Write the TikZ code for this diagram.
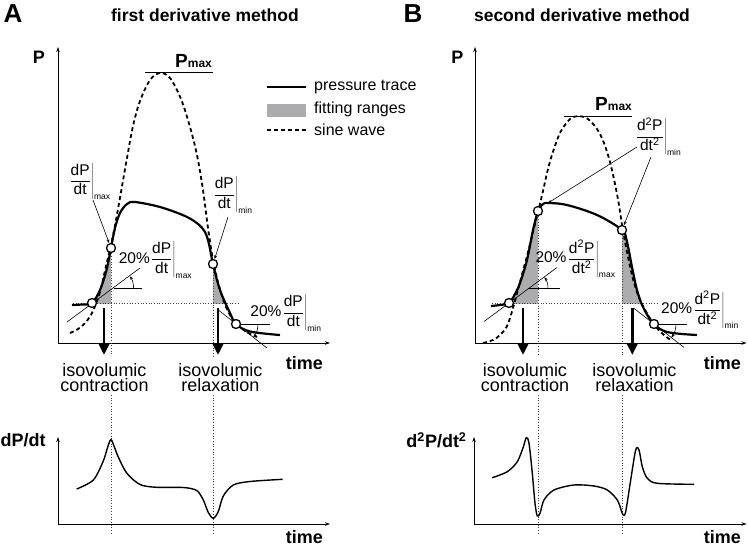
\documentclass[tikz,border=0pt]{standalone}
\usepackage{fontspec}
\setmainfont{Liberation Sans}
\usetikzlibrary{arrows.meta}
\definecolor{fillg}{RGB}{172,172,175}
\newcommand\dfr[3]{$\displaystyle\left.\frac{\mbox{#1}}{\mbox{#2}}\right|_{\mbox{\fontsize{8.5}{8.5}\selectfont #3}}$}
\begin{document}
\begin{tikzpicture}[x=1pt,y=-1pt,
  ax/.style={line width=0.8pt,-{Stealth[length=5pt,width=3.5pt]}},
  trace/.style={line width=2.2pt,line join=round},
  sine/.style={line width=1.8pt,dash pattern=on 4pt off 3pt},
  dotl/.style={line width=0.7pt,dotted,black!75},
  thinl/.style={line width=0.6pt},
  lead/.style={line width=0.6pt,-{Stealth[length=4pt,width=3pt]}},
  bigarrow/.style={line width=2.8pt,-{Triangle[length=11pt,width=10pt]}},
  ptc/.style={circle,draw,fill=white,line width=1.3pt,minimum size=9pt,inner sep=0pt},
  lbl/.style={font=\fontsize{18}{15}\selectfont,align=center,inner sep=0pt},
  bl/.style={font=\bfseries\fontsize{18}{18}\selectfont,inner sep=0pt},
  fl/.style={font=\fontsize{15.5}{15.5}\selectfont,inner sep=0pt},
  lg/.style={font=\fontsize{16}{16}\selectfont,anchor=west,inner sep=0pt}]
\useasboundingbox (0,0) rectangle (748,547);

% ---------- headings ----------
\node[font=\bfseries\fontsize{26}{26}\selectfont] (labA) at (13,14) {A};
\node[font=\bfseries\fontsize{26}{26}\selectfont] (labB) at (413,14) {B};
\node[font=\bfseries\fontsize{17.5}{17.5}\selectfont] (titA) at (205,15) {first derivative method};
\node[font=\bfseries\fontsize{17.5}{17.5}\selectfont] (titB) at (582,15) {second derivative method};

% ---------- legend ----------
\coordinate (lg1a) at (267,87); \coordinate (lg1b) at (306,87);
\draw[trace] (lg1a) -- (lg1b);
\fill[fillg] (267,104) rectangle (306,117);
\coordinate (lg3a) at (267,130); \coordinate (lg3b) at (306,130);
\draw[sine] (lg3a) -- (lg3b);
\node[lg] (lgt1) at (314,87) {pressure trace};
\node[lg] (lgt2) at (314,109) {fitting ranges};
\node[lg] (lgt3) at (314,130) {sine wave};

% ================= PANEL A =================
% fitting ranges
\begin{scope}
\clip (92,150) rectangle (111,303);
\fill[fillg] plot[smooth,tension=0.55] coordinates {(72,305) (82,304.5) (92,303) (100,290) (106.5,270) (111,248) (115,228) (120,213) (127,204) (135,202) (160,207) (185,216) (198,224) (205,232) (209,244) (213,264) (220,290) (230,313) (236,324) (250,331.5) (280,335)} -- (280,400) -- (72,400) -- cycle;
\end{scope}
\begin{scope}
\clip (213,150) rectangle (250,303);
\fill[fillg] plot[smooth,tension=0.55] coordinates {(72,305) (82,304.5) (92,303) (100,290) (106.5,270) (111,248) (115,228) (120,213) (127,204) (135,202) (160,207) (185,216) (198,224) (205,232) (209,244) (213,264) (220,290) (230,313) (236,324) (250,331.5) (280,335)} -- (280,400) -- (72,400) -- cycle;
\end{scope}

% axes
\coordinate (oA) at (58,343);
\coordinate (yA) at (58,47);
\coordinate (xA) at (330,343);
\draw[ax] (oA) -- (yA);
\draw[ax] (oA) -- (xA);
\node[bl] (PA) at (39,57) {P};
\node[bl] (timeA) at (304.5,363) {time};

% dotted guides
\coordinate (hA1) at (73,303); \coordinate (hA2) at (238,303);
\draw[dotl] (hA1) -- (hA2);
\coordinate (vA1) at (111,248); \coordinate (vA1b) at (111,356);
\coordinate (vA1c) at (111,395); \coordinate (vA1d) at (111,533);
\coordinate (vA2) at (213,264); \coordinate (vA2b) at (213,356);
\coordinate (vA2c) at (213,395); \coordinate (vA2d) at (213,533);
\draw[dotl] (vA1) -- (vA1b); \draw[dotl] (vA1c) -- (vA1d);
\draw[dotl] (vA2) -- (vA2b); \draw[dotl] (vA2c) -- (vA2d);

% sine wave
\draw[sine] plot[smooth,tension=0.55] coordinates {(70,333) (78,329) (86,322) (93,311) (100,292) (106,266) (111,245) (116,220) (121,192) (127,158) (133,126) (140,101) (150,80) (160,73) (170,78) (181,99) (190,127) (197,155) (203,190) (208,228) (213,260) (219,286) (226,307) (234,321) (245,331) (257,337)};
\coordinate (pmA1) at (145,72); \coordinate (pmA2) at (213,72);
\draw[thinl] (pmA1) -- (pmA2);
\node[anchor=base west,inner sep=0pt] (PmaxA) at (175,67) {\bfseries\fontsize{19}{19}\selectfont P\fontsize{12}{12}\selectfont max};

% pressure trace
\draw[trace] plot[smooth,tension=0.55] coordinates {(72,305) (82,304.5) (92,303) (100,290) (106.5,270) (111,248) (115,228) (120,213) (127,204) (135,202) (160,207) (185,216) (198,224) (205,232) (209,244) (213,264) (220,290) (230,313) (236,324) (250,331.5) (280,335)};

% tangents and angles
\coordinate (tA1) at (67,322); \coordinate (tA2) at (140,268);
\draw[thinl] (tA1) -- (tA2);
\coordinate (aA1) at (113.6,288); \coordinate (aA2) at (142,288);
\draw[thinl] (aA1) -- (aA2);
\draw[thinl,-{Stealth[length=4pt,width=3pt]}] (133.6,288) arc[start angle=0,end angle=-36,radius=20];
\coordinate (tA3) at (217,309); \coordinate (tA4) at (267,348);
\draw[thinl] (tA3) -- (tA4);
\coordinate (aA3) at (236,324); \coordinate (aA4) at (270,324);
\draw[thinl] (aA3) -- (aA4);
\draw[thinl,-{Stealth[length=4pt,width=3pt]}] (258,324) arc[start angle=0,end angle=38,radius=22];

% points
\node[ptc] (cA1) at (92,303) {};
\node[ptc] (cA2) at (111,248) {};
\node[ptc] (cA3) at (213,264) {};
\node[ptc] (cA4) at (236,324) {};

% labels
\node[fl] (fA1) at (89.5,181.5) {\dfr{dP}{dt}{max}};
\node[fl] (fA2) at (232.5,195) {\dfr{dP}{dt}{min}};
\node[fl] (fA3) at (155.5,260) {20\%\dfr{dP}{dt}{max}};
\node[fl] (fA4) at (286,313) {20\%\dfr{dP}{dt}{min}};
\coordinate (lA1) at (93,200); \coordinate (lA2) at (228,217);
\draw[lead] (lA1) -- (cA2);
\draw[lead] (lA2) -- (cA3);

% arrows and phase labels
\coordinate (arA1) at (104,308); \coordinate (arA2) at (104,355);
\coordinate (arA3) at (218,308); \coordinate (arA4) at (218,355);
\draw[bigarrow] (arA1) -- (arA2);
\draw[bigarrow] (arA3) -- (arA4);
\node[lbl] (isoA1) at (104.5,378) {isovolumic\\contraction};
\node[lbl] (isoA2) at (220.5,378) {isovolumic\\relaxation};

% bottom plot A
\coordinate (oA2) at (58,524);
\coordinate (yA2) at (58,437);
\coordinate (xA2) at (330,524);
\draw[ax] (oA2) -- (yA2);
\draw[ax] (oA2) -- (xA2);
\node[bl] (dPdt) at (23,440) {dP/dt};
\node[bl] (timeA2) at (304.5,537) {time};
\draw[line width=1.4pt] plot[smooth,tension=0.5] coordinates {(76.7,489) (93.3,480) (103.3,461) (108,446) (111,439.5) (114,446) (118.3,457) (126.7,473) (140,484.5) (156.7,487.3) (183.3,487.5) (196.7,490.5) (203.3,500) (208.3,512.5) (213.3,518.3) (218.3,511.5) (223.3,496) (233.3,485) (250,481.5) (282.7,479.3)};

% ================= PANEL B =================
\begin{scope}
\clip (509,150) rectangle (538,303);
\fill[fillg] plot[smooth,tension=0.55] coordinates {(491,306) (500,305) (509,303) (515,294) (520,283) (527,260) (533,230) (538,211) (542,205) (547,203) (567,205) (597,215) (622,230) (627,242) (632,267) (637,290) (643,307) (653,323) (667,332) (697,335)} -- (697,400) -- (491,400) -- cycle;
\end{scope}
\begin{scope}
\clip (622,150) rectangle (670,303);
\fill[fillg] plot[smooth,tension=0.55] coordinates {(491,306) (500,305) (509,303) (515,294) (520,283) (527,260) (533,230) (538,211) (542,205) (547,203) (567,205) (597,215) (622,230) (627,242) (632,267) (637,290) (643,307) (653,323) (667,332) (697,335)} -- (697,400) -- (491,400) -- cycle;
\end{scope}

\coordinate (oB) at (475,343);
\coordinate (yB) at (475,47);
\coordinate (xB) at (746.5,343);
\draw[ax] (oB) -- (yB);
\draw[ax] (oB) -- (xB);
\node[bl] (PB) at (457.3,57) {P};
\node[bl] (timeB) at (722.3,363) {time};

\coordinate (hB1) at (492,303); \coordinate (hB2) at (657,303);
\draw[dotl] (hB1) -- (hB2);
\coordinate (vB1) at (538,211); \coordinate (vB1b) at (538,356);
\coordinate (vB1c) at (538,395); \coordinate (vB1d) at (538,533);
\coordinate (vB2) at (622,230); \coordinate (vB2b) at (622,356);
\coordinate (vB2c) at (622,395); \coordinate (vB2d) at (622,533);
\draw[dotl] (vB1) -- (vB1b); \draw[dotl] (vB1c) -- (vB1d);
\draw[dotl] (vB2) -- (vB2b); \draw[dotl] (vB2c) -- (vB2d);

\draw[sine] plot[smooth,tension=0.55] coordinates {(483,343) (493,340) (500,335) (507,326) (513,308) (520,282) (527,256) (533,232) (538,212) (543,191) (547,173) (551,158) (556,143) (561,131) (570,119) (579,116) (588,119) (597,129) (604,143) (610,162) (615,184) (619,205) (622,225) (627,252) (633,279) (640,300) (648,315) (656,327) (664,335) (672,341)};
\coordinate (pmB1) at (564,116); \coordinate (pmB2) at (632,116);
\draw[thinl] (pmB1) -- (pmB2);
\node[anchor=base west,inner sep=0pt] (PmaxB) at (595,110) {\bfseries\fontsize{19}{19}\selectfont P\fontsize{12}{12}\selectfont max};

\draw[trace] plot[smooth,tension=0.55] coordinates {(491,306) (500,305) (509,303) (515,294) (520,283) (527,260) (533,230) (538,211) (542,205) (547,203) (567,205) (597,215) (622,230) (627,242) (632,267) (637,290) (643,307) (653,323) (667,332) (697,335)};

\coordinate (tB1) at (484,321.5); \coordinate (tB2) at (557,267.5);
\draw[thinl] (tB1) -- (tB2);
\coordinate (aB1) at (529,288.3); \coordinate (aB2) at (560,288.3);
\draw[thinl] (aB1) -- (aB2);
\draw[thinl,-{Stealth[length=4pt,width=3pt]}] (548,288.3) arc[start angle=0,end angle=-36,radius=19];
\coordinate (tB3) at (634,308.4); \coordinate (tB4) at (684,347.4);
\draw[thinl] (tB3) -- (tB4);
\coordinate (aB3) at (654,324); \coordinate (aB4) at (687,324);
\draw[thinl] (aB3) -- (aB4);
\draw[thinl,-{Stealth[length=4pt,width=3pt]}] (676,324) arc[start angle=0,end angle=38,radius=22];

\node[ptc] (cB1) at (509,303) {};
\node[ptc] (cB2) at (538,211) {};
\node[ptc] (cB3) at (622,230) {};
\node[ptc] (cB4) at (654,324) {};

\node[fl] (fB1) at (658,136.5) {\dfr{d\textsuperscript{2}P}{dt\textsuperscript{2}}{min}};
\node[fl] (fB3) at (575.5,259) {20\%\dfr{d\textsuperscript{2}P}{dt\textsuperscript{2}}{max}};
\node[fl] (fB4) at (700,310) {20\%\dfr{d\textsuperscript{2}P}{dt\textsuperscript{2}}{min}};
\coordinate (lB1) at (637,147); \coordinate (lB1e) at (548,203);
\coordinate (lB2) at (651,157);
\draw[lead] (lB1) -- (lB1e);
\draw[lead] (lB2) -- (cB3);

\coordinate (arB1) at (523,308); \coordinate (arB2) at (523,355);
\coordinate (arB3) at (632.3,308); \coordinate (arB4) at (632.3,355);
\draw[bigarrow] (arB1) -- (arB2);
\draw[bigarrow] (arB3) -- (arB4);
\node[lbl] (isoB1) at (525,378) {isovolumic\\contraction};
\node[lbl] (isoB2) at (634.5,378) {isovolumic\\relaxation};

\coordinate (oB2) at (474,524);
\coordinate (yB2) at (474,437);
\coordinate (xB2) at (746.5,524);
\draw[ax] (oB2) -- (yB2);
\draw[ax] (oB2) -- (xB2);
\node[bl] (d2Pdt2) at (436.5,440) {d\textsuperscript{2}P/dt\textsuperscript{2}};
\node[bl] (timeB2) at (722.3,537) {time};
\draw[line width=1.4pt] plot[smooth,tension=0.5] coordinates {(492.3,477.7) (507.3,471.7) (517.3,461.7) (523.3,447) (526.3,437.7) (529,443.3) (532.3,473.3) (535,503.3) (537.3,516) (540,513.3) (544,500) (554,490) (574,485) (594,486) (607.3,490) (617.3,500) (621.7,511.7) (623.3,515) (625.7,511.7) (630.7,480) (635.7,450) (639,450) (642.3,466.7) (647.3,478.3) (657.3,483.3) (694,484.3)};
\end{tikzpicture}
\end{document}
